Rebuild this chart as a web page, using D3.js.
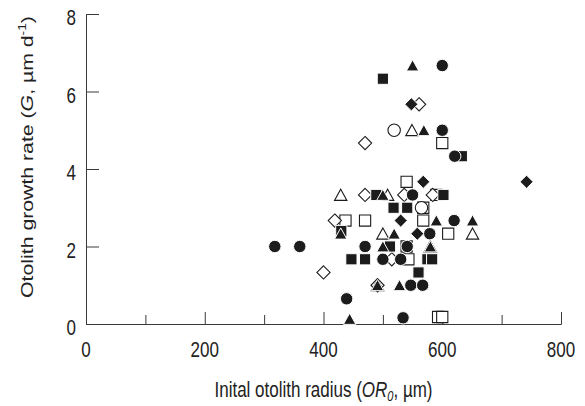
<!DOCTYPE html>
<html>
<head>
<meta charset="utf-8">
<script src="https://cdn.jsdelivr.net/npm/d3@7/dist/d3.min.js"></script>
<style>
  html, body { margin: 0; padding: 0; background: #fff; }
  svg { display: block; }
  text { font-family: "Liberation Sans", Arial, sans-serif; fill: #222; }
</style>
</head>
<body>
<svg id="chart" width="585" height="406"></svg>
<script>
// Initial otolith radius (µm) vs otolith growth rate (µm/d), one array per marker style
const filledCircles = [[318,2.0],[360,2.0],[439,0.65],[534,0.16],[470,2.0],[541,2.0],[500,1.67],[530,1.67],
  [547,1.0],[567,1.0],[550,3.33],[579,2.33],[600,6.67],[600,5.0],[621,4.33],[620,2.67]];
const openCircles = [[519,5.0],[565,3.0]];
const filledTriangles = [[550,6.67],[569,5.0],[444,0.13],[491,1.0],[528,1.0],[429,2.33],[500,3.33],[500,2.0],
  [519,2.33],[590,2.67],[651,2.67],[580,2.0]];
const openTriangles = [[429,3.33],[549,5.0],[508,3.33],[500,2.33],[651,2.33],[580,2.0],[491,1.0]];
const filledSquares = [[500,6.33],[633,4.33],[489,3.33],[518,3.0],[541,3.0],[602,3.33],[430,2.4],[447,1.67],
  [470,1.67],[512,2.0],[560,1.33],[575,1.67],[583,1.67]];
const openSquares = [[600,4.67],[540,3.67],[568,3.0],[437,2.67],[470,2.67],[568,2.67],[610,2.33],[540,2.0],
  [543,1.67],[593,0.18],[600,0.18],[590,3.33]];
const filledDiamonds = [[548,5.67],[568,3.67],[742,3.67],[530,2.67],[558,2.33]];
const openDiamonds = [[561,5.67],[470,4.67],[470,3.33],[419,2.67],[400,1.33],[536,3.33],[584,3.33],[491,1.0],[515,1.67]];

const xMajorTicks = [0, 200, 400, 600, 800];
const xMinorTicks = [100, 300, 500, 700];
const yTicks = [0, 2, 4, 6, 8];

const svg = d3.select("#chart");
const plotLeft = 86, plotRight = 561, plotTop = 14, plotBottom = 324;
const x = d3.scaleLinear().domain([0, 800]).range([plotLeft, plotRight]);
const y = d3.scaleLinear().domain([0, 8]).range([plotBottom, plotTop]);
const ink = "#1c1c1c";
const axisColor = "#3a3a3a";
const stretch = 1.25;   // tall lettering

// axes
const gx = svg.append("g").attr("transform", `translate(0,${plotBottom})`);
gx.call(d3.axisBottom(x).tickValues(xMajorTicks).tickSize(-12).tickSizeOuter(0).tickFormat(""));
gx.call(g => g.append("g").call(d3.axisBottom(x).tickValues(xMinorTicks).tickSize(-9).tickSizeOuter(0).tickFormat("")));
gx.selectAll(".domain").attr("stroke", axisColor);
gx.selectAll("line").attr("stroke", axisColor);

const gy = svg.append("g").attr("transform", `translate(${plotLeft},0)`);
gy.call(d3.axisLeft(y).tickValues(yTicks).tickSize(-13).tickSizeOuter(0).tickFormat(""));
gy.selectAll(".domain").attr("stroke", axisColor);
gy.selectAll("line").attr("stroke", axisColor);

// tick labels
svg.append("g").selectAll("text").data(xMajorTicks).join("text")
  .attr("transform", d => `translate(${x(d)},${plotBottom + 26}) scale(1,${stretch})`)
  .attr("text-anchor", "middle").attr("dy", "0.35em")
  .style("font-size", "17px").text(d => d);

svg.append("g").selectAll("text").data(yTicks).join("text")
  .attr("transform", d => `translate(${plotLeft - 10},${y(d) + 4}) scale(1,${stretch})`)
  .attr("text-anchor", "end").attr("dy", "0.35em")
  .style("font-size", "17px").text(d => d);

// axis titles
const xt = svg.append("text")
  .attr("transform", `translate(${(plotLeft + plotRight) / 2},${plotBottom + 66}) scale(1,${stretch})`)
  .attr("text-anchor", "middle").attr("dy", "0.35em").style("font-size", "17px");
xt.append("tspan").text("Inital otolith radius (");
xt.append("tspan").style("font-style", "italic").text("OR");
xt.append("tspan").style("font-style", "italic").style("font-size", "11px").attr("dy", "0.25em").text("0");
xt.append("tspan").attr("dy", "-0.16em").text(", µm)");

const yt = svg.append("text")
  .attr("transform", `translate(27,157) scale(1,${stretch}) rotate(-90)`)
  .attr("text-anchor", "middle").attr("dy", "0.35em").style("font-size", "17px");
yt.append("tspan").text("Otolith growth rate (");
yt.append("tspan").style("font-style", "italic").text("G");
yt.append("tspan").text(", µm d");
yt.append("tspan").style("font-size", "11px").attr("dy", "-0.6em").text("-1");
yt.append("tspan").attr("dy", "0.4em").text(")");

// marker shapes
const shapes = {
  circle: () => d3.symbol(d3.symbolCircle, Math.PI * 6.2 * 6.2)(),
  square: () => "M-5.6,-5.6H5.6V5.6H-5.6Z",
  triangle: () => "M0,-5.8L6.2,5.4H-6.2Z",
  diamond: () => "M0,-6.6L6.6,0L0,6.6L-6.6,0Z"
};

const series = [
  { data: openSquares, shape: "square", filled: false },
  { data: openCircles, shape: "circle", filled: false },
  { data: openDiamonds, shape: "diamond", filled: false },
  { data: openTriangles, shape: "triangle", filled: false },
  { data: filledSquares, shape: "square", filled: true },
  { data: filledDiamonds, shape: "diamond", filled: true },
  { data: filledTriangles, shape: "triangle", filled: true },
  { data: filledCircles, shape: "circle", filled: true }
];

const marks = svg.append("g");
series.forEach(s => {
  marks.append("g").selectAll("path").data(s.data).join("path")
    .attr("transform", d => `translate(${x(d[0])},${y(d[1])})`)
    .attr("d", shapes[s.shape]())
    .attr("fill", s.filled ? ink : "#fff")
    .attr("stroke", s.filled ? "#fff" : ink)
    .attr("stroke-width", s.filled ? 1 : 1.1);
});
</script>
</body>
</html>
